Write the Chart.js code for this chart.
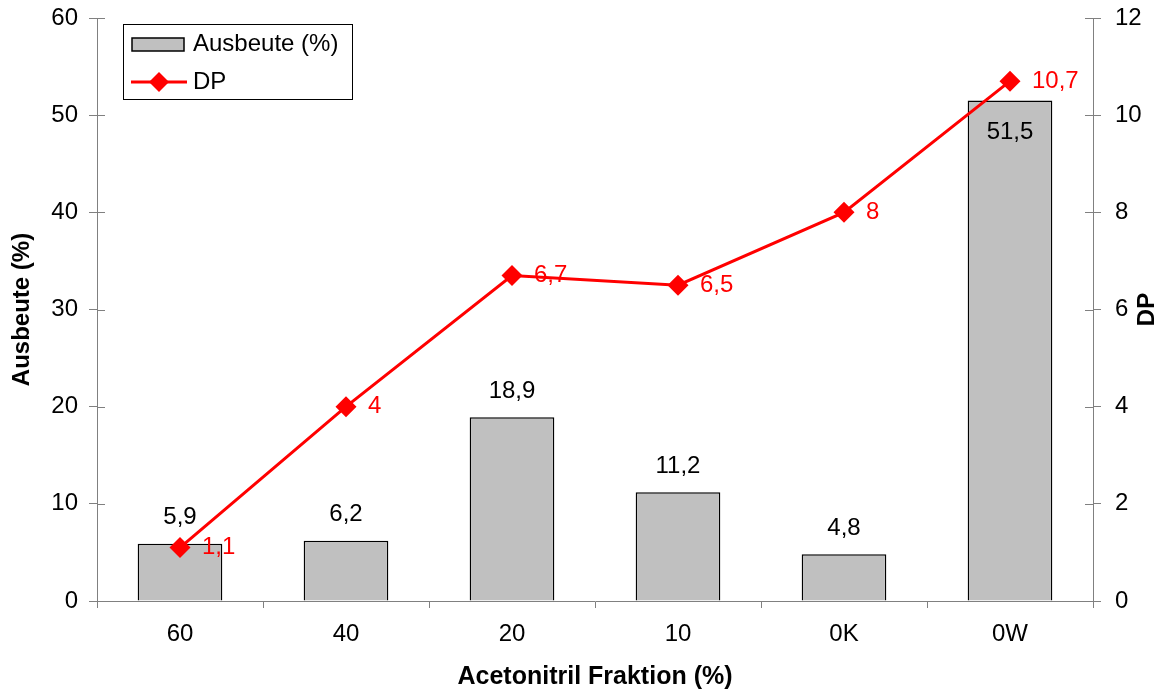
<!DOCTYPE html>
<html>
<head>
<meta charset="utf-8">
<script src="https://cdn.jsdelivr.net/npm/chart.js@4/dist/chart.umd.min.js"></script>
<style>
  html, body { margin: 0; padding: 0; background: #fff; }
  #wrap { width: 1162px; height: 693px; }
</style>
</head>
<body>
<div id="wrap"><canvas id="chart" width="1162" height="693"></canvas></div>
<script>
const categories = ['60', '40', '20', '10', '0K', '0W'];
const ausbeute = [5.9, 6.2, 18.9, 11.2, 4.8, 51.5];
const dp = [1.1, 4, 6.7, 6.5, 8, 10.7];
const leftTicks = [0, 10, 20, 30, 40, 50, 60];
const rightTicks = [0, 2, 4, 6, 8, 10, 12];

const FONT = '"Liberation Sans", Arial, sans-serif';
const fmt = v => String(v).replace('.', ',');

// inside halves of the y tick marks, data labels, titles and legend
const extras = {
  id: 'extras',
  afterDatasetsDraw(chart) {
    const ctx = chart.ctx;
    ctx.save();
    ctx.font = '24px ' + FONT;
    ctx.textBaseline = 'middle';

    const bars = chart.getDatasetMeta(0).data;
    ctx.fillStyle = '#000';
    ctx.textAlign = 'center';
    bars.forEach((b, i) => {
      const v = ausbeute[i];
      const y = v > 45 ? b.y + 32 : b.y - 26;
      ctx.fillText(fmt(v), b.x, y);
    });

    const pts = chart.getDatasetMeta(1).data;
    ctx.fillStyle = '#ff0000';
    ctx.textAlign = 'left';
    pts.forEach((p, i) => {
      ctx.fillText(fmt(dp[i]), p.x + 22, p.y);
    });
    ctx.restore();
  },
  afterDraw(chart) {
    const ctx = chart.ctx;
    const a = chart.chartArea;
    const yl = chart.scales.y;
    const yr = chart.scales.y1;
    ctx.save();
    ctx.strokeStyle = '#808080';
    ctx.lineWidth = 1;
    ctx.beginPath();
    leftTicks.forEach(t => {
      const y = Math.round(yl.getPixelForValue(t)) + 0.5;
      ctx.moveTo(a.left, y); ctx.lineTo(a.left + 8, y);
    });
    rightTicks.forEach(t => {
      const y = Math.round(yr.getPixelForValue(t)) + 0.5;
      ctx.moveTo(a.right - 8, y); ctx.lineTo(a.right, y);
    });
    ctx.stroke();

    // axis titles
    ctx.fillStyle = '#000';
    ctx.font = 'bold 25px ' + FONT;
    ctx.textAlign = 'center';
    ctx.textBaseline = 'middle';
    ctx.fillText('Acetonitril Fraktion (%)', (a.left + a.right) / 2, 677);
    ctx.font = 'bold 24px ' + FONT;
    ctx.save();
    ctx.translate(22, (a.top + a.bottom) / 2);
    ctx.rotate(-Math.PI / 2);
    ctx.fillText('Ausbeute (%)', 0, 0);
    ctx.restore();
    ctx.save();
    ctx.translate(1147, (a.top + a.bottom) / 2);
    ctx.rotate(-Math.PI / 2);
    ctx.fillText('DP', 0, 0);
    ctx.restore();

    // legend box
    ctx.fillStyle = '#fff';
    ctx.fillRect(123, 24, 229, 75);
    ctx.strokeStyle = '#000';
    ctx.lineWidth = 1;
    ctx.strokeRect(123.5, 24.5, 229, 75);
    ctx.fillStyle = '#c0c0c0';
    ctx.fillRect(132, 38, 52, 13);
    ctx.lineWidth = 1.5;
    ctx.strokeRect(132, 38, 52, 13);
    ctx.strokeStyle = '#ff0000';
    ctx.lineWidth = 3;
    ctx.beginPath();
    ctx.moveTo(131, 82); ctx.lineTo(187, 82);
    ctx.stroke();
    ctx.fillStyle = '#ff0000';
    ctx.beginPath();
    ctx.moveTo(159, 72); ctx.lineTo(169, 82); ctx.lineTo(159, 92); ctx.lineTo(149, 82);
    ctx.closePath();
    ctx.fill();
    ctx.fillStyle = '#000';
    ctx.font = '24px ' + FONT;
    ctx.textAlign = 'left';
    ctx.fillText('Ausbeute (%)', 193, 44);
    ctx.fillText('DP', 193, 82);
    ctx.restore();
  }
};

new Chart(document.getElementById('chart'), {
  type: 'bar',
  data: {
    labels: categories,
    datasets: [
      {
        type: 'bar',
        label: 'Ausbeute (%)',
        data: ausbeute,
        yAxisID: 'y',
        backgroundColor: '#c0c0c0',
        borderColor: '#000000',
        borderWidth: 1.5,
        categoryPercentage: 1,
        barPercentage: 0.51,
        order: 2
      },
      {
        type: 'line',
        label: 'DP',
        data: dp,
        yAxisID: 'y1',
        borderColor: '#ff0000',
        backgroundColor: '#ff0000',
        borderWidth: 3,
        pointStyle: 'rectRot',
        pointRadius: 10.5,
        pointBorderWidth: 0,
        tension: 0,
        order: 1
      }
    ]
  },
  options: {
    responsive: false,
    animation: false,
    layout: { padding: { top: 18, left: 0, right: 0, bottom: 0 } },
    plugins: {
      legend: { display: false },
      tooltip: { enabled: false }
    },
    scales: {
      x: {
        offset: true,
        grid: { display: true, drawOnChartArea: false, offset: true, tickLength: 7, color: '#808080' },
        border: { color: '#808080' },
        ticks: { color: '#000', font: { family: FONT, size: 24 }, padding: 12 },
        afterFit(s) { s.height = 92; s.paddingLeft = 0; s.paddingRight = 0; }
      },
      y: {
        position: 'left',
        min: 0, max: 60,
        afterBuildTicks(s) { s.ticks = leftTicks.map(v => ({ value: v })); },
        grid: { drawOnChartArea: false, tickLength: 8, color: '#808080' },
        border: { color: '#808080' },
        ticks: { color: '#000', font: { family: FONT, size: 24 }, padding: 11 },
        afterFit(s) { s.width = 97; s.paddingTop = 0; s.paddingBottom = 0; }
      },
      y1: {
        position: 'right',
        min: 0, max: 12,
        afterBuildTicks(s) { s.ticks = rightTicks.map(v => ({ value: v })); },
        grid: { drawOnChartArea: false, tickLength: 8, color: '#808080' },
        border: { color: '#808080' },
        ticks: { color: '#000', font: { family: FONT, size: 24 }, padding: 14 },
        afterFit(s) { s.width = 69; s.paddingTop = 0; s.paddingBottom = 0; }
      }
    }
  },
  plugins: [extras]
});
</script>
</body>
</html>
